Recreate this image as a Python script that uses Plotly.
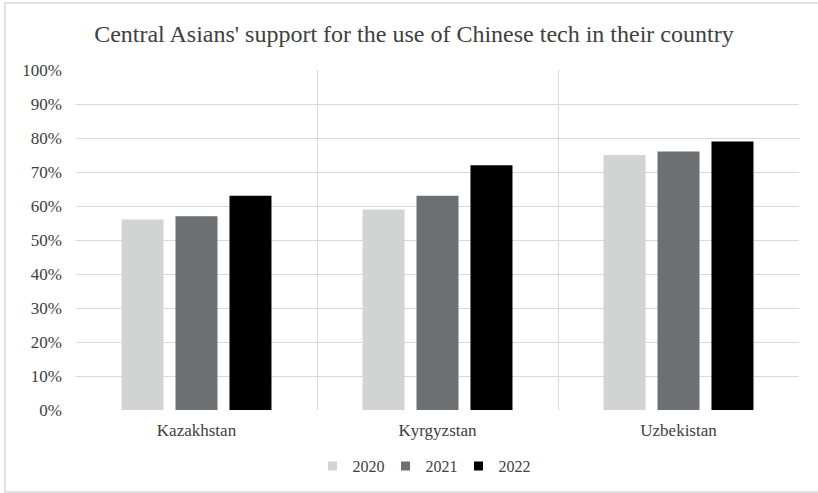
import plotly.graph_objects as go

countries = ["Kazakhstan", "Kyrgyzstan", "Uzbekistan"]
years = ["2020", "2021", "2022"]
values_2020 = [56, 59, 75]
values_2021 = [57, 63, 76]
values_2022 = [63, 72, 79]
colors = ["#d2d3d3", "#6d7072", "#000000"]

W, H = 818, 493
L, R, T, B = 76, 19, 70, 83
pw, ph = W - L - R, H - T - B

SERIF = "Liberation Serif"
TXT = "#404040"

fig = go.Figure()
for yr, vals, col in zip(years, [values_2020, values_2021, values_2022], colors):
    fig.add_trace(go.Bar(x=countries, y=vals, name=yr, showlegend=False,
                         marker=dict(color=col, line=dict(width=0))))
# legend entries with small square swatches
for yr, col in zip(years, colors):
    fig.add_trace(go.Scatter(x=[None], y=[None], mode="markers", name=yr,
                             marker=dict(symbol="square", size=9, color=col)))

fig.update_layout(
    template="none",
    width=W, height=H,
    margin=dict(l=L, r=R, t=T, b=B, autoexpand=False),
    paper_bgcolor="white", plot_bgcolor="white",
    barmode="group", bargap=0.328, bargroupgap=0.222,
    font=dict(family=SERIF, color=TXT, size=16),
    title=dict(text="Central Asians' support for the use of Chinese tech in their country",
               x=0.506, xanchor="center", xref="container", y=1 - 34 / H, yanchor="middle",
               font=dict(family=SERIF, size=24, color=TXT)),
    xaxis=dict(tickson="boundaries", showgrid=True, gridcolor="#d9d9d9", gridwidth=1,
               ticks="", showline=False, zeroline=False, automargin=False,
               ticklabelstandoff=8,
               tickfont=dict(family=SERIF, size=17, color=TXT)),
    yaxis=dict(range=[0, 100], dtick=10, ticksuffix="%", showgrid=True, gridcolor="#d9d9d9",
               gridwidth=1, zeroline=False, showline=False, ticks="", automargin=False,
               ticklabelstandoff=13,
               tickfont=dict(family=SERIF, size=17, color=TXT)),
    legend=dict(orientation="h", x=(422 - L) / pw, xanchor="center",
                y=(T + ph - 466) / ph, yanchor="middle", entrywidth=28,
                font=dict(family=SERIF, size=16, color=TXT), itemwidth=30,
                traceorder="normal", bgcolor="rgba(0,0,0,0)"),
    showlegend=True,
)

# outer chart border
fig.add_shape(type="rect", xref="paper", yref="paper",
              x0=(5 - L) / pw, x1=(830 - L) / pw,
              y0=(T + ph - 492) / ph, y1=(T + ph - 3) / ph,
              line=dict(color="#d9d9d9", width=1.5), fillcolor="rgba(0,0,0,0)", layer="below")

fig.write_html("out.html", config={"displayModeBar": False},
               post_script="document.body.style.margin='0';document.body.style.overflow='hidden';")
